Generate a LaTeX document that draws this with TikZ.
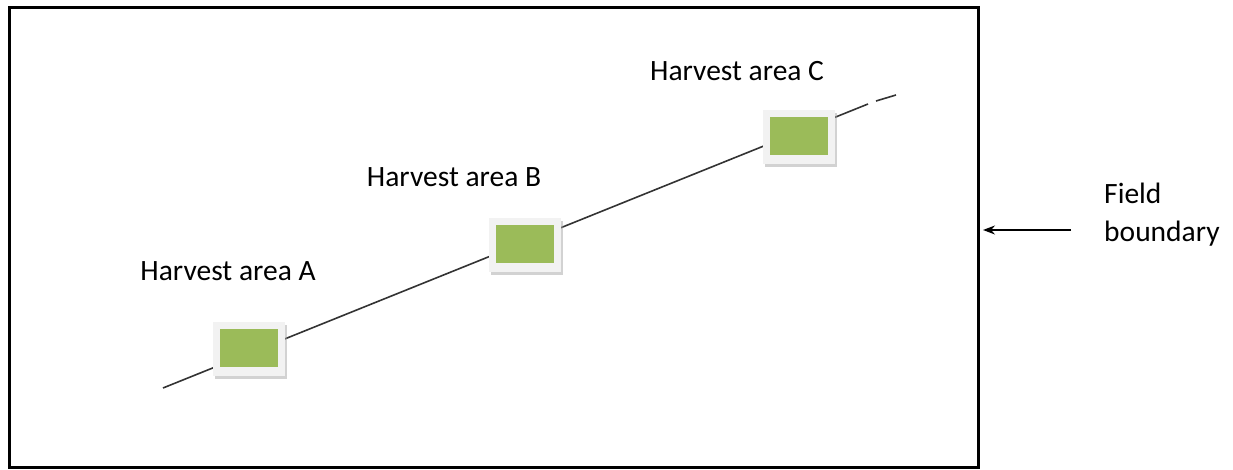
\documentclass[tikz,border=0pt]{standalone}
\usepackage{fontspec}
\setmainfont{Carlito}
\usetikzlibrary{shadows,arrows.meta}
\definecolor{plotgreen}{HTML}{9BBB59}
\definecolor{frame}{HTML}{F2F2F2}
\tikzset{
  plot/.style={draw=none, fill=frame, minimum width=72pt, minimum height=54pt,
    drop shadow={shadow xshift=2pt, shadow yshift=-3pt, fill=black!35, opacity=0.5},
    path picture={\fill[plotgreen] ([xshift=7pt,yshift=-7pt]path picture bounding box.north west)
      rectangle ([xshift=-7pt,yshift=9pt]path picture bounding box.south east);}},
  lbl/.style={font=\fontsize{29.5}{38}\selectfont, inner sep=0pt},
  transect/.style={draw=black!80, line width=1.6pt}
}
\begin{document}
\begin{tikzpicture}[x=1pt,y=-1pt]
\useasboundingbox (0,0) rectangle (1233,470);
% field boundary
\draw[line width=3pt] (9,8) rectangle (978,467);
% transect line
\coordinate (s) at (163,388);
\coordinate (e1) at (868,104);
\coordinate (e2) at (876,101);
\coordinate (e3) at (896,95);
\draw[transect] (s) -- (e1);
\draw[transect] (e2) -- (e3);
% harvest areas
\node[plot] (A) at (249,349) {};
\node[plot] (B) at (525,245) {};
\node[plot] (C) at (799,137) {};
\node[lbl] (la) at (228,271) {Harvest area A};
\node[lbl] (lb) at (454,177) {Harvest area B};
\node[lbl] (lc) at (737,71) {Harvest area C};
% label and arrow
\node[lbl, align=left, anchor=west] (fb) at (1104,215) {Field\\boundary};
\coordinate (tip) at (983,230);
\coordinate (tail) at (1071,230);
\draw[line width=1.2pt, -{Stealth[length=12pt,width=9pt]}] (tail) -- (tip);
\end{tikzpicture}
\end{document}
